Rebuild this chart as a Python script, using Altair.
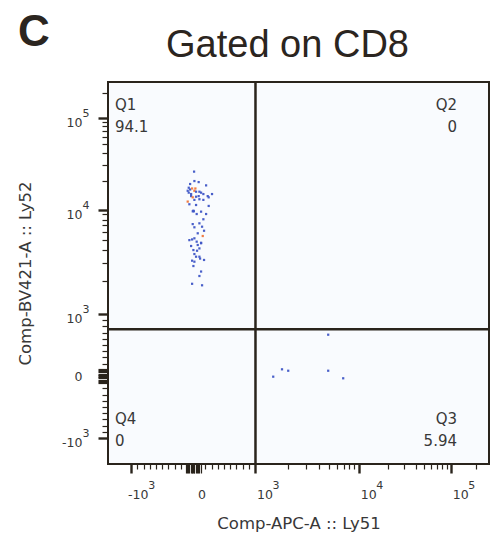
import math
import altair as alt
import pandas as pd

# ---- events (Comp-APC-A :: Ly51, Comp-BV421-A :: Ly52) ----
q1_apc = [16, 21, 90, -48, 210, -70, -48, -16, 37, 21, 48, -87, -70, -32, 102, 129, 166, 236,
          306, -32, -6, 48, 90, -87, 21, 102, 166, 252, -60, 48, 252, 5, 12, -5, 129, 58, 210,
          166, -6, 102, 145, 21, 177, 75, 156, -16, 21, -60, 58, 129, 75, 129, -32, 102, 5, 64,
          21, 102, 48, 113, 177, -16, 21, 5, 129, 102, -16, 145]
q1_bv = [25200, 20000, 19500, 18600, 18000, 17000, 16300, 16700, 16700, 15800, 15450, 15800,
         15100, 14600, 15450, 15100, 14600, 13900, 14600, 13900, 13500, 13700, 13900, 12200,
         12700, 12900, 12700, 13500, 11450, 11250, 11000, 9840, 9700, 9700, 9620, 9100, 9100,
         8050, 7200, 7330, 6780, 6690, 6180, 5830, 5480, 5070, 5200, 4990, 4820, 4650, 4470,
         4700, 4370, 4140, 3990, 3930, 3650, 3440, 3440, 3300, 3200, 3150, 3080, 2800, 2480,
         2250, 1900, 1840]
q1_hue = ["b", "b", "b", "b", "b", "b", "b", "o", "o", "o", "b", "b", "b", "b", "b", "b", "b", "b",
          "b", "b", "o", "b", "b", "o", "b", "b", "b", "b", "b", "b", "b", "b", "b", "b", "b", "b",
          "b", "b", "b", "b", "b", "b", "b", "b", "o", "b", "b", "b", "b", "b", "b", "b", "b", "b",
          "b", "b", "b", "b", "b", "b", "b", "b", "b", "b", "b", "b", "b", "b"]
q3_apc = [4925, 1775, 2030, 1470, 4925, 6940]
q3_bv = [666, 108, 85, -11, 85, -37]

gate_apc = [1010]
gate_bv = [753]

quad_names = ["Q1", "Q2", "Q3", "Q4"]
quad_pct = ["94.1", "0", "5.94", "0"]

major_vals = [-1000, 0, 1000, 10000, 100000]
major_base = ["-10", "0", "10", "10", "10"]
major_exp = ["3", "", "3", "4", "5"]
minor_vals = ([-900, -800, -700, -600, -500, -400, -300, -200, -100,
               100, 200, 300, 400, 500, 600, 700, 800, 900]
              + [k * 1000 for k in range(2, 10)]
              + [k * 10000 for k in range(2, 10)]
              + [200000])
zero_vals = [-120, -100, -80, -60, -40, -20, 20, 40, 60, 80, 100, 120]

DARK = "#2a241c"
TXT = "#383838"
FONT = "DejaVu Sans"
LBL = 12.5
EXP = 11


# biexponential display transform (same in Python for ticks and in Vega for data)
def biex(v):
    if abs(v) <= 1000:
        return round(0.062 * v, 4)
    L = math.log10(abs(v) / 1000)
    return round(math.copysign(62 + 110 * L - 6 * L * L, v), 4)


def biex_expr(f):
    a = f"abs(datum.{f})"
    L = f"(log({a}/1000)/LN10)"
    return f"{a} <= 1000 ? 0.062*datum.{f} : (datum.{f} < 0 ? -1 : 1)*(62 + 110*{L} - 6*{L}*{L})"


major_pos = [biex(v) for v in major_vals]
all_pos = sorted(set(major_pos + [biex(v) for v in minor_vals] + [biex(v) for v in zero_vals]))
big_pos = major_pos + [biex(v) for v in zero_vals]


def near_any(lst):
    return " || ".join(f"abs(datum.value - ({p})) < 0.01" for p in lst)


label_expr = " : ".join(f"abs(datum.value - ({p})) < 0.01 ? '{lab}'"
                        for p, lab in zip(major_pos, major_base)) + " : ''"


def make_axis(orient, big, small, title, **kw):
    return alt.Axis(
        values=all_pos, tickCount=1000, labelExpr=label_expr, title=title, orient=orient,
        tickSize={"condition": {"test": near_any(big_pos), "value": big}, "value": small},
        tickWidth={"condition": {"test": near_any(major_pos), "value": 2.4}, "value": 1.2},
        tickColor=DARK, domain=False, grid=False, labelOverlap=False, labelFlush=False,
        labelBound=False, **kw)


xaxis = make_axis("bottom", 9, 5, "Comp-APC-A :: Ly51", labelAlign="left",
                  labelBaseline="alphabetic", labelPadding=25,
                  labelOffset={"condition": [{"test": "datum.value < -1", "value": -3.7},
                                             {"test": "abs(datum.value) < 0.5", "value": 4.5}],
                               "value": 1.5},
                  titleX=190.5, titleY=64, titleBaseline="alphabetic", titleAlign="center")
yaxis = make_axis("left", 10, 6, "Comp-BV421-A :: Ly52", labelAlign="right", labelBaseline="middle",
                  labelPadding=16,
                  labelOffset={"condition": {"test": "abs(datum.value) < 0.5", "value": 0},
                               "value": 4},
                  titleX=-83, titleY=191, titleAngle=-90, titleBaseline="middle",
                  titleAlign="center")

xscale = alt.Scale(domain=[-85.2, 296.3], nice=False, zero=False)
yscale = alt.Scale(domain=[-88, 294], nice=False, zero=False)

events = pd.DataFrame({
    "apc": q1_apc + q3_apc,
    "bv": q1_bv + q3_bv,
    "hue": q1_hue + ["b"] * len(q3_apc),
})

points = alt.Chart(events).transform_calculate(
    xd=biex_expr("apc"), yd=biex_expr("bv")
).mark_square(size=5, opacity=0.95).encode(
    x=alt.X("xd:Q", scale=xscale, axis=xaxis),
    y=alt.Y("yd:Q", scale=yscale, axis=yaxis),
    color=alt.Color("hue:N", scale=alt.Scale(domain=["b", "o"], range=["#3f56c6", "#f0763a"]),
                    legend=None),
)

vgate = alt.Chart(pd.DataFrame({"apc": gate_apc})).transform_calculate(
    xd=biex_expr("apc")).mark_rule(color=DARK, strokeWidth=2.5).encode(x="xd:Q")
hgate = alt.Chart(pd.DataFrame({"bv": gate_bv})).transform_calculate(
    yd=biex_expr("bv")).mark_rule(color=DARK, strokeWidth=2.5).encode(y="yd:Q")

# exponents of the tick labels (superscripts), positioned through the scales
expdf = pd.DataFrame({"v": major_vals, "e": major_exp})
expbase = alt.Chart(expdf).transform_filter("datum.e != ''").transform_calculate(
    d=biex_expr("v"))
x_exp_pos = expbase.transform_filter("datum.v > 0").mark_text(
    align="left", baseline="alphabetic", fontSize=EXP, font=FONT, color=TXT, dx=17.5
).encode(x="d:Q", y=alt.value(407), text="e:N")
x_exp_neg = expbase.transform_filter("datum.v < 0").mark_text(
    align="left", baseline="alphabetic", fontSize=EXP, font=FONT, color=TXT, dx=17.2
).encode(x="d:Q", y=alt.value(407), text="e:N")
y_exp = expbase.mark_text(
    align="left", baseline="alphabetic", fontSize=EXP, font=FONT, color=TXT, dy=-1
).encode(y="d:Q", x=alt.value(-25.5), text="e:N")

qdf = pd.DataFrame({"t": [f"{n}\n{p}" for n, p in zip(quad_names, quad_pct)], "q": quad_names})
qpos = {"Q1": (7, 27.5, "left"), "Q2": (349, 27.5, "right"), "Q3": (349, 342, "right"),
        "Q4": (7, 342, "left")}
qlayers = []
for name in quad_names:
    xx, yy, al = qpos[name]
    qlayers.append(
        alt.Chart(qdf).transform_filter(alt.datum.q == name).mark_text(
            lineBreak="\n", align=al, baseline="alphabetic", fontSize=15, lineHeight=22,
            font=FONT, color=TXT
        ).encode(x=alt.value(xx), y=alt.value(yy), text="t:N")
    )

heads = pd.DataFrame({"t": ["C", "Gated on CD8"], "k": ["panel", "title"]})
panel = alt.Chart(heads).transform_filter(alt.datum.k == "panel").mark_text(
    align="left", baseline="alphabetic", fontSize=44, fontWeight="bold",
    font="Liberation Sans", color="#2b2520"
).encode(x=alt.value(-90), y=alt.value(-36), text="t:N")
title = alt.Chart(heads).transform_filter(alt.datum.k == "title").mark_text(
    align="center", baseline="alphabetic", fontSize=38, fontWeight="normal",
    font="Liberation Sans", color="#2b2520"
).encode(x=alt.value(179.5), y=alt.value(-25), text="t:N")

chart = alt.layer(points, vgate, hgate, x_exp_pos, x_exp_neg, y_exp, *qlayers, panel,
                  title).properties(
    width=381, height=382,
    autosize=alt.AutoSizeParams(type="none"),
    padding={"left": 108, "top": 82, "right": 5, "bottom": 76},
).configure_view(
    fill="#f9fbfe", stroke=DARK, strokeWidth=2
).configure_axis(
    labelFont=FONT, labelFontSize=LBL, labelColor=TXT,
    titleFont=FONT, titleFontSize=16.5, titleColor=TXT, titleFontWeight="normal",
)

chart.save("out.html", embed_options={"renderer": "svg", "actions": False})
